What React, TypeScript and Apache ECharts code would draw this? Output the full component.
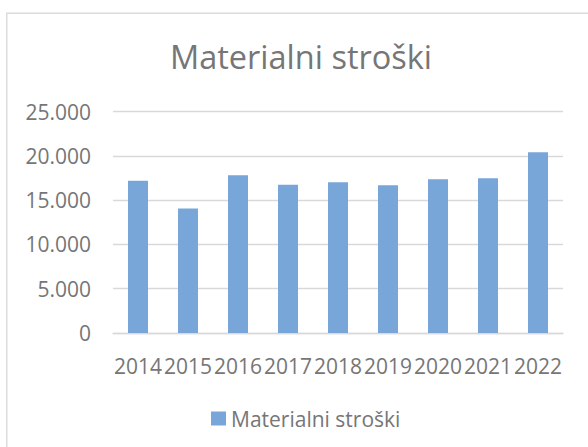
import React, { useEffect, useRef } from "react";
import * as echarts from "echarts";

const categories = ["2014", "2015", "2016", "2017", "2018", "2019", "2020", "2021", "2022"];
const values = [17190, 14070, 17830, 16740, 17040, 16700, 17380, 17490, 20430];
const seriesName = "Materialni stroški";
const titleText = "Materialni stroški";

const TEXT = "#767676";
const FONT = "Open Sans";

function fmt(v: number): string {
  return String(Math.round(v)).replace(/\B(?=(\d{3})+(?!\d))/g, ".");
}

export default function App() {
  const ref = useRef<HTMLDivElement>(null);
  useEffect(() => {
    if (!ref.current) return;
    const chart = echarts.init(ref.current, undefined, { renderer: "svg" });
    chart.setOption({
      animation: false,
      backgroundColor: "#ffffff",
      title: {
        text: titleText,
        left: 301,
        top: 40,
        textAlign: "center",
        padding: 0,
        textStyle: { fontFamily: FONT, fontSize: 32.5, fontWeight: "normal", color: TEXT },
      },
      legend: {
        data: [seriesName],
        left: 211,
        top: 408,
        padding: 0,
        itemWidth: 15,
        itemHeight: 14,
        icon: "rect",
        textStyle: { fontFamily: FONT, fontSize: 21, color: TEXT },
      },
      grid: { left: 113, right: 25, top: 111.7, bottom: 114, containLabel: false },
      xAxis: {
        type: "category",
        data: categories,
        axisLine: { show: true, lineStyle: { color: "#d9d9d9", width: 1.3 } },
        axisTick: { show: false },
        axisLabel: { interval: 0, margin: 22, fontFamily: FONT, fontSize: 21, color: TEXT },
      },
      yAxis: {
        type: "value",
        min: 0,
        max: 25000,
        interval: 5000,
        axisLine: { show: false },
        axisTick: { show: false },
        splitLine: { lineStyle: { color: "#d9d9d9", width: 1.3 } },
        axisLabel: { margin: 22, fontFamily: FONT, fontSize: 21, color: TEXT, formatter: (v: number) => fmt(v) },
      },
      graphic: [
        {
          type: "rect",
          shape: { x: 6.75, y: 13.25, width: 700, height: 600 },
          style: { fill: "none", stroke: "#dcdcdc", lineWidth: 1.5 },
          silent: true,
          z: -1,
        },
      ],
      series: [
        {
          name: seriesName,
          type: "bar",
          data: values,
          barWidth: "40%",
          itemStyle: { color: "#78a6d8" },
        },
      ],
    });
    return () => chart.dispose();
  }, []);
  return (
    <div
      ref={ref}
      style={{ position: "fixed", left: 0, top: 0, width: 588, height: 447, background: "#fff" }}
    />
  );
}
